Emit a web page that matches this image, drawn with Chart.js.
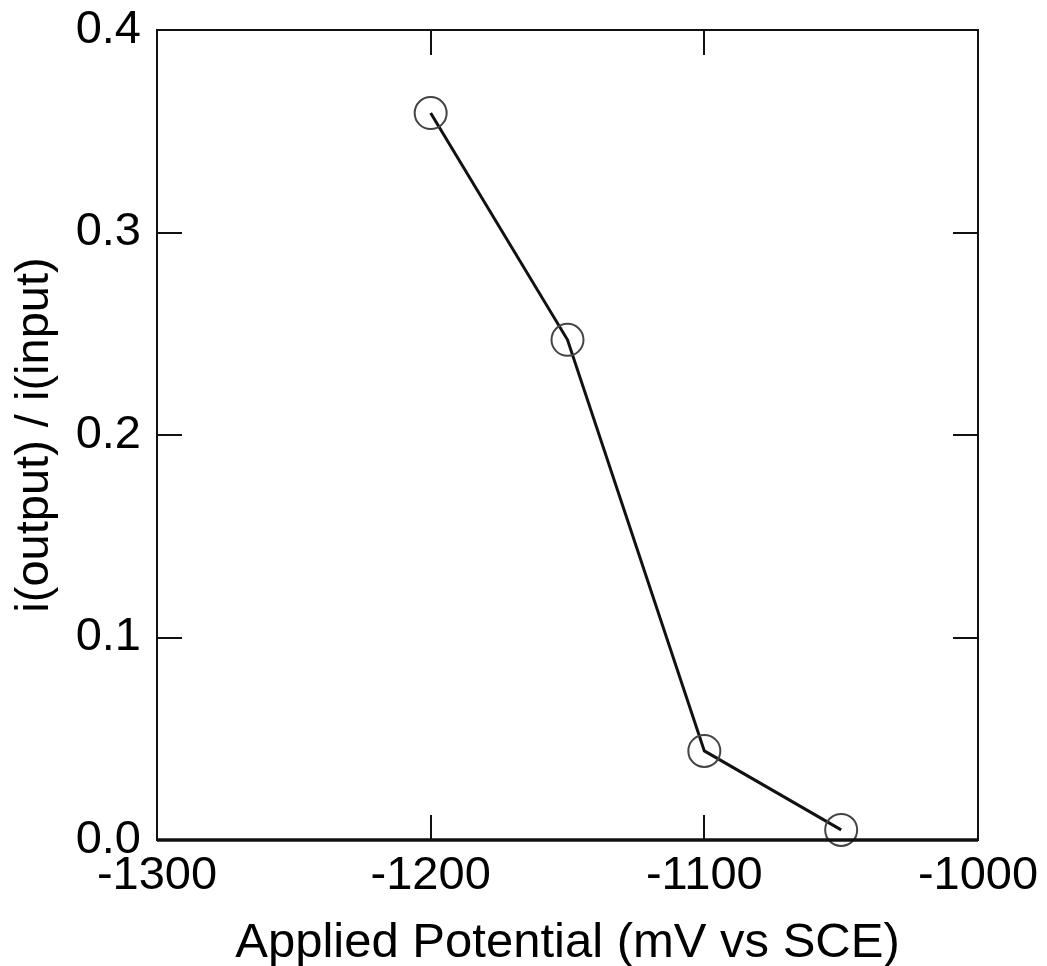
<!DOCTYPE html>
<html>
<head>
<meta charset="utf-8">
<script src="https://cdn.jsdelivr.net/npm/chart.js@4.4.1/dist/chart.umd.min.js"></script>
<style>
  html, body { margin: 0; padding: 0; background: #fff; }
  #wrap { width: 1047px; height: 966px; position: relative; }
</style>
</head>
<body>
<div id="wrap"><canvas id="c"></canvas></div>
<script>
// ---------- data ----------
const potential = [-1200, -1150, -1100, -1050];          // mV vs SCE
const ratio     = [0.359, 0.247, 0.044, 0.005];          // i(output) / i(input)
const xTicks    = [-1300, -1200, -1100, -1000];
const yTicks    = [0.0, 0.1, 0.2, 0.3, 0.4];

const FONT = '"Liberation Sans", Arial, Helvetica, sans-serif';
const INK = '#000';

// frame + inward ticks on all four sides
const frameTicks = {
  id: 'frameTicks',
  afterDatasetsDraw(chart) {
    const { ctx, chartArea: a, scales: { x, y } } = chart;
    const len = 25;
    ctx.save();
    ctx.strokeStyle = '#111';
    ctx.lineWidth = 2;
    ctx.beginPath();
    xTicks.slice(1, -1).forEach(v => {
      const px = Math.round(x.getPixelForValue(v));
      ctx.moveTo(px, a.bottom); ctx.lineTo(px, a.bottom - len);
      ctx.moveTo(px, a.top);    ctx.lineTo(px, a.top + len);
    });
    yTicks.slice(1, -1).forEach(v => {
      const py = Math.round(y.getPixelForValue(v));
      ctx.moveTo(a.left, py);  ctx.lineTo(a.left + len, py);
      ctx.moveTo(a.right, py); ctx.lineTo(a.right - len, py);
    });
    ctx.stroke();
    // box
    ctx.lineWidth = 2;
    ctx.strokeRect(a.left, a.top, a.right - a.left, a.bottom - a.top);
    ctx.lineWidth = 3.5;
    ctx.beginPath(); ctx.moveTo(a.left, a.bottom); ctx.lineTo(a.right, a.bottom); ctx.stroke();
    ctx.restore();
  }
};

new Chart(document.getElementById('c'), {
  type: 'line',
  data: {
    datasets: [{
      data: potential.map((p, i) => ({ x: p, y: ratio[i] })),
      borderColor: '#111',
      borderWidth: 3,
      pointRadius: 16,
      pointHoverRadius: 16,
      pointBorderColor: '#444',
      pointBorderWidth: 2,
      pointBackgroundColor: 'rgba(0,0,0,0)',
      tension: 0,
      clip: false
    }]
  },
  options: {
    responsive: true,
    maintainAspectRatio: false,
    animation: false,
    layout: { padding: { top: 30, right: 69, bottom: 0, left: 0 } },
    plugins: { legend: { display: false }, tooltip: { enabled: false } },
    scales: {
      x: {
        type: 'linear',
        min: -1300, max: -1000,
        afterBuildTicks: s => { s.ticks = xTicks.map(v => ({ value: v })); },
        afterFit: s => { s.height = 126; },
        grid: { display: false },
        border: { display: false },
        ticks: { color: INK, font: { family: FONT, size: 47 }, padding: 0, maxRotation: 0, autoSkip: false,
                 callback: v => String(v) },
        title: {
          display: true, text: 'Applied Potential (mV vs SCE)', color: INK,
          font: { family: FONT, size: 49, lineHeight: 0.9 }, padding: { top: 0, bottom: 0 }
        }
      },
      y: {
        type: 'linear',
        min: 0, max: 0.4,
        afterBuildTicks: s => { s.ticks = yTicks.map(v => ({ value: v })); },
        afterFit: s => { s.width = 157; s.paddingTop = 0; },
        grid: { display: false },
        border: { display: false },
        ticks: { color: INK, font: { family: FONT, size: 47, lineHeight: 1 }, padding: 8, callback: v => v.toFixed(1) },
        title: {
          display: true, text: 'i(output) / i(input)', color: INK,
          font: { family: FONT, size: 47, lineHeight: 1 }, padding: { top: 12, bottom: 0 }
        }
      }
    }
  },
  plugins: [frameTicks]
});
</script>
</body>
</html>
